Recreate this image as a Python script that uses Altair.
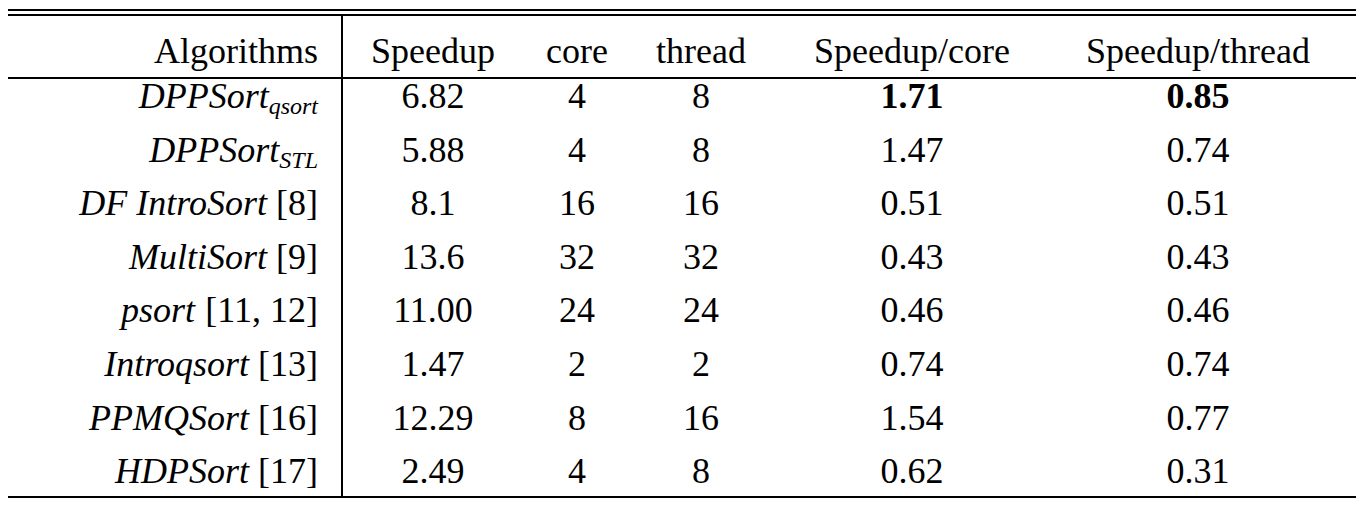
import altair as alt
import pandas as pd

headers = ["Algorithms", "Speedup", "core", "thread", "Speedup/core", "Speedup/thread"]
alg_main = ["DPPSort", "DPPSort", "DF IntroSort", "MultiSort", "psort", "Introqsort", "PPMQSort", "HDPSort"]
alg_suffix = ["qsort", "STL", " [8]", " [9]", " [11, 12]", " [13]", " [16]", " [17]"]
alg_is_sub = [True, True, False, False, False, False, False, False]
speedup = ["6.82", "5.88", "8.1", "13.6", "11.00", "1.47", "12.29", "2.49"]
core = ["4", "4", "16", "32", "24", "2", "8", "4"]
thread = ["8", "8", "16", "32", "24", "2", "16", "8"]
sp_core = ["1.71", "1.47", "0.51", "0.43", "0.46", "0.74", "1.54", "0.62"]
sp_thread = ["0.85", "0.74", "0.51", "0.43", "0.46", "0.74", "0.77", "0.31"]
bold_row = 0  # best values in bold for the last two columns

M = 8
FS = 36
SUB = 24
FONT = "'Liberation Serif', 'Times New Roman', Times, serif"
col_x = [318, 433, 577, 701, 912, 1198]
header_base = 63
row_base0 = 108
row_step = 53.6

def ypos(r):
    return (header_base if r < 0 else row_base0 + row_step * r) - M

reg_w = {" ": .25, "[": .333, "]": .333, ",": .25}
ital_w = {"q": .5, "s": .389, "o": .5, "r": .389, "t": .278, "S": .5, "T": .556, "L": .556}
def width(s, sub):
    if sub:
        return sum(ital_w.get(c, .5) for c in s) * SUB
    return sum(reg_w.get(c, .5) for c in s) * FS

plain, boldr, ital, subs, regs = [], [], [], [], []
for j, h in enumerate(headers):
    plain.append(dict(x=col_x[j] - M, y=ypos(-1), t=h, a="right" if j == 0 else "center"))
for i in range(len(alg_main)):
    y = ypos(i)
    vals = [speedup[i], core[i], thread[i], sp_core[i], sp_thread[i]]
    for j, v in enumerate(vals, start=1):
        rec = dict(x=col_x[j] - M, y=y, t=v, a="center")
        (boldr if (i == bold_row and j >= 4) else plain).append(rec)
    R = col_x[0] - M
    w = width(alg_suffix[i], alg_is_sub[i])
    ital.append(dict(x=R - w, y=y, t=alg_main[i], a="right"))
    if alg_is_sub[i]:
        subs.append(dict(x=R, y=y + 6, t=alg_suffix[i], a="right"))
    else:
        regs.append(dict(x=R, y=y, t=alg_suffix[i], a="right"))

def layer(recs, size=FS, style="normal", weight="normal", align="center"):
    return alt.Chart(pd.DataFrame(recs)).mark_text(
        font=FONT, fontSize=size, fontStyle=style, fontWeight=weight,
        baseline="alphabetic", align=align, color="black"
    ).encode(x=alt.X("x:Q", scale=None, axis=None), y=alt.Y("y:Q", scale=None, axis=None), text="t:N")

hdr = [r for r in plain if r["a"] == "right"]
plain_c = [r for r in plain if r["a"] == "center"]
one = pd.DataFrame({"a": [0]})
def hrule(y, x1=6, x2=1357):
    return alt.Chart(one).mark_rule(color="black", strokeWidth=2).encode(
        x=alt.value(x1 - M), x2=alt.value(x2 - M), y=alt.value(y - M))
vrule = alt.Chart(one).mark_rule(color="black", strokeWidth=2).encode(
    x=alt.value(342 - M), y=alt.value(15 - M), y2=alt.value(497 - M))

chart = alt.layer(
    hrule(10), hrule(15), hrule(78), hrule(497), vrule,
    layer(plain_c), layer(hdr, align="right"),
    layer(boldr, weight="bold"),
    layer(ital, style="italic", align="right"),
    layer(subs, size=SUB, style="italic", align="right"),
    layer(regs, align="right"),
).properties(width=1348, height=504, padding=0, autosize="none", background="white"
).configure_view(stroke=None)

chart.save("out.html", embed_options={"renderer": "svg", "actions": False})
